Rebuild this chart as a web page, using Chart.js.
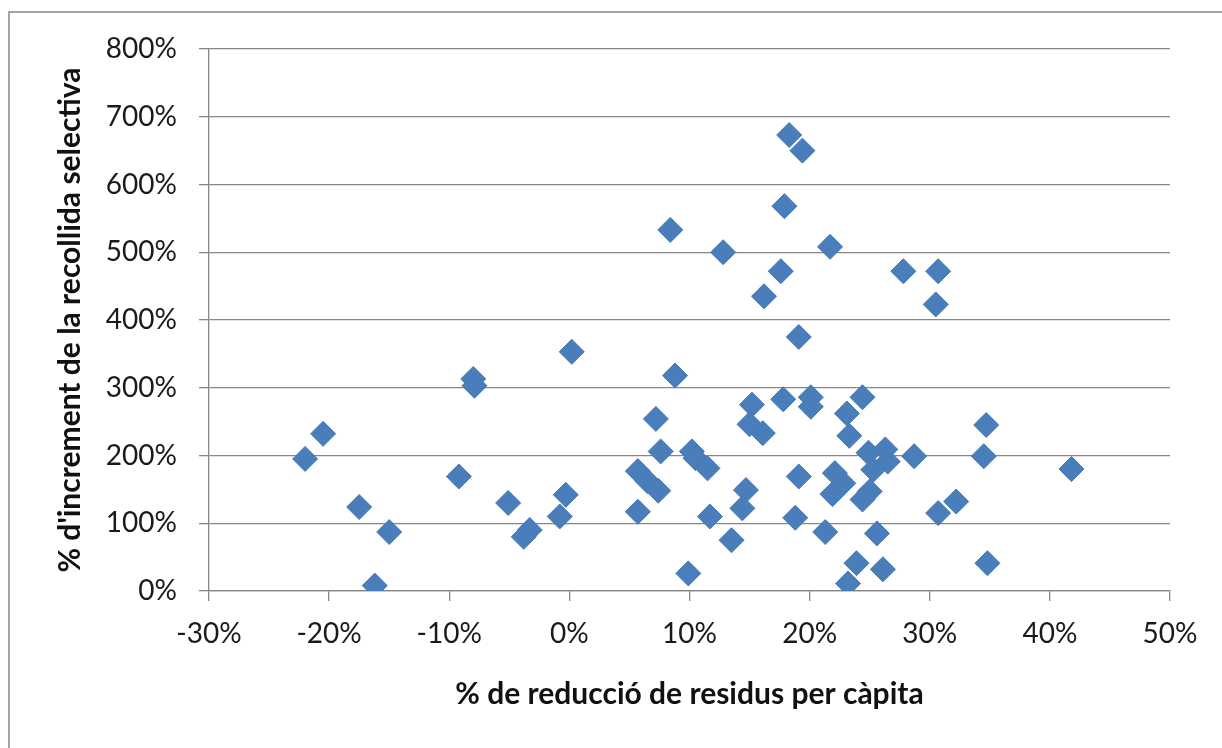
<!DOCTYPE html>
<html lang="ca">
  <head>
    <meta charset="UTF-8" />
    <title>Reducció de residus vs recollida selectiva</title>
    <style>
      html, body {
        margin: 0;
        padding: 0;
        background: #fff;
        overflow: hidden;
      }
      #marc {
        position: absolute;
        left: 8px;
        top: 11px;
        width: 2000px;
        height: 2000px;
        border-top: 2px solid #a3a3a3;
        border-left: 2px solid #a3a3a3;
      }
      canvas {
        position: absolute;
        left: 0;
        top: 0;
      }
    </style>
  </head>
  <body>
  <div id="marc"></div>
  <canvas id="grafic" width="1222" height="748"></canvas>

<script src="https://cdn.jsdelivr.net/npm/chart.js"></script>
<script>

// % de reducció de residus per càpita (eix x)
const reduccio = [
  0.2, -8.0, -7.9, -20.5, -22.0, -17.5, -15.0, -16.2, -9.2, -5.1,
  -3.3, -3.8, -0.3, -0.8, 18.3, 19.4, 17.9, 8.4, 12.8, 21.7,
  17.6, 16.2, 27.8, 30.7, 30.5, 19.1, 8.8, 7.2, 7.6, 5.7,
  6.5, 7.4, 5.7, 10.2, 10.5, 11.5, 11.7, 13.5, 9.9, 14.7,
  14.4, 15.2, 15.0, 16.1, 17.8, 20.1, 20.1, 24.4, 23.1, 23.3,
  19.1, 18.8, 21.3, 22.1, 22.8, 21.9, 24.9, 26.3, 26.5, 25.3,
  25.0, 24.4, 28.7, 25.6, 23.9, 23.2, 26.1, 30.7, 32.2, 34.7,
  34.5, 41.8, 34.8
];

// % d'increment de la recollida selectiva (eix y)
const increment = [
  353, 313, 303, 232, 195, 124, 87, 8, 169, 130,
  90, 80, 142, 110, 673, 650, 568, 533, 500, 508,
  472, 435, 472, 472, 423, 375, 318, 254, 206, 177,
  162, 148, 117, 206, 196, 181, 110, 75, 26, 149,
  122, 275, 246, 233, 283, 286, 272, 286, 262, 229,
  169, 108, 87, 174, 159, 143, 204, 209, 191, 179,
  147, 135, 199, 85, 41, 11, 32, 115, 132, 245,
  199, 180, 41
];

const titolX = '% de reducció de residus per càpita';
const titolY = "% d'increment de la recollida selectiva";

const punts = reduccio.map((x, i) => ({ x: x, y: increment[i] }));

const gris = '#868686';
const lletra = 'Lato, "Open Sans", sans-serif';

const ctxC = document.getElementById('grafic');

const config = {
  type: 'scatter',
  data: {
    datasets: [
      {
        label: 'municipis',
        data: punts,
        pointStyle: 'rectRot',
        pointRadius: 12.5,
        backgroundColor: '#4a7ebb',
        borderColor: '#4678b4',
        borderWidth: 1,
      },
    ],
  },
  options: {
    responsive: false,
    animation: false,
    devicePixelRatio: 1,
    layout: {
      padding: { left: 0, right: 52, top: 49, bottom: 0 },
    },
    plugins: {
      legend: { display: false },
      tooltip: { enabled: false },
    },
    scales: {
      x: {
        type: 'linear',
        min: -30,
        max: 50,
        afterFit: (s) => { s.height = 157; },
        grid: {
          drawOnChartArea: false,
          drawTicks: true,
          tickLength: 10,
          color: gris,
          lineWidth: 1.3,
        },
        border: { color: gris, width: 1.3 },
        ticks: {
          stepSize: 10,
          padding: 16,
          color: '#1a1a1a',
          font: { family: lletra, size: 28 },
          callback: (v) => v + '%',
        },
        title: {
          display: true,
          text: titolX,
          color: '#111',
          font: { family: lletra, size: 30, weight: 'bold' },
          padding: { top: 0, bottom: 36 },
        },
      },
      y: {
        type: 'linear',
        min: 0,
        max: 800,
        afterFit: (s) => { s.width = 209; },
        grid: {
          drawOnChartArea: true,
          drawTicks: true,
          tickLength: 10,
          color: gris,
          lineWidth: 1.3,
        },
        border: { color: gris, width: 1.3 },
        ticks: {
          stepSize: 100,
          padding: 22,
          color: '#1a1a1a',
          font: { family: lletra, size: 28 },
          callback: (v) => v + '%',
        },
        title: {
          display: true,
          text: titolY,
          color: '#111',
          font: { family: lletra, size: 30, weight: 'bold' },
          padding: { top: 52, bottom: 0 },
        },
      },
    },
  },
};

const grafic = new Chart(ctxC, config);
</script>
  </body>
</html>
